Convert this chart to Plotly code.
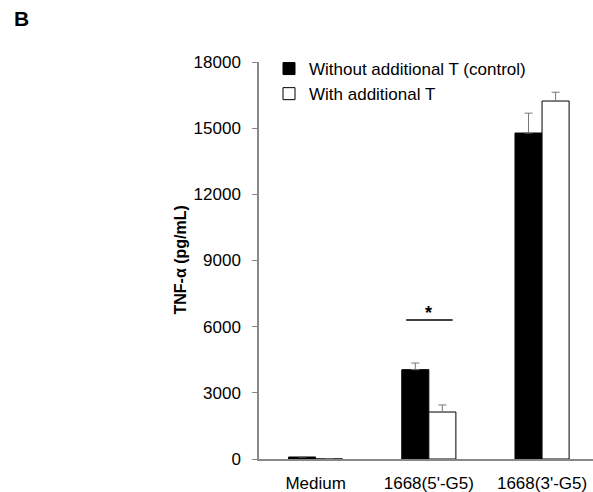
import plotly.graph_objects as go

categories = ["Medium", "1668(5'-G5)", "1668(3'-G5)"]
control_vals = [90, 4050, 14780]
control_err = [20, 300, 900]
addT_vals = [0, 2130, 16230]
addT_err = [0, 320, 400]
y_ticks = [0, 3000, 6000, 9000, 12000, 15000, 18000]
y_tick_labels = ["0", "3000", "6000", "9000", "12000", "15000", "18000"]
sig_y = 6300

FONT = "Liberation Sans, Arial, sans-serif"

fig = go.Figure()
fig.add_trace(go.Bar(
    x=categories, y=control_vals, name="Without additional T (control)",
    marker=dict(color="black", line=dict(color="black", width=1)),
    error_y=dict(type="data", array=control_err, arrayminus=[0]*3, symmetric=False,
                 color="#777777", thickness=1, width=4),
))
fig.add_trace(go.Bar(
    x=categories, y=addT_vals, name="With additional T",
    marker=dict(color="white", line=dict(color="black", width=1)),
    error_y=dict(type="data", array=addT_err, arrayminus=[0]*3, symmetric=False,
                 color="#777777", thickness=1, width=4),
))

# significance marker over the 1668(5'-G5) group
fig.add_shape(type="line", xref="x", yref="y", x0=0.8, x1=1.21, y0=sig_y, y1=sig_y,
              line=dict(color="black", width=1.5))
fig.add_annotation(x=1.0, y=sig_y, xref="x", yref="y", text="<b>*</b>", showarrow=False,
                   yanchor="bottom", yshift=-5, font=dict(family=FONT, size=18, color="black"))

fig.add_annotation(x=(180-259)/334, y=0.5, xref="paper", yref="paper",
                   text="<b>TNF-α (pg/mL)</b>", textangle=-90, showarrow=False,
                   xanchor="center", yanchor="middle",
                   font=dict(family=FONT, size=16, color="black"))
fig.add_annotation(x=(12-259)/334, y=(459-18)/397, xref="paper", yref="paper", text="<b>B</b>",
                   showarrow=False, xanchor="left", yanchor="middle",
                   font=dict(family=FONT, size=21, color="black"))

fig.update_layout(
    width=593, height=492,
    margin=dict(l=259, r=0, t=62, b=33),
    paper_bgcolor="white", plot_bgcolor="white",
    barmode="group", bargap=0.522, bargroupgap=0,
    font=dict(family=FONT, size=17, color="black"),
    legend=dict(x=(269-259)/334, y=1 + 11/397, xanchor="left", yanchor="top",
                bgcolor="rgba(0,0,0,0)", font=dict(size=17), tracegroupgap=0,
                itemwidth=30),
    xaxis=dict(range=[-0.5, 2.45], showline=True, linecolor="#888888", linewidth=1.5,
               ticks="", showgrid=False, ticklabelstandoff=8, tickfont=dict(size=17)),
    yaxis=dict(range=[0, 18000], tickvals=y_ticks, ticktext=y_tick_labels, showline=True,
               linecolor="#888888", linewidth=1.5, ticks="outside", ticklen=5,
               tickcolor="#888888", showgrid=False, zeroline=False, ticklabelstandoff=8,
               tickfont=dict(size=17)),
    showlegend=True,
)

fig.write_html("out.html")
